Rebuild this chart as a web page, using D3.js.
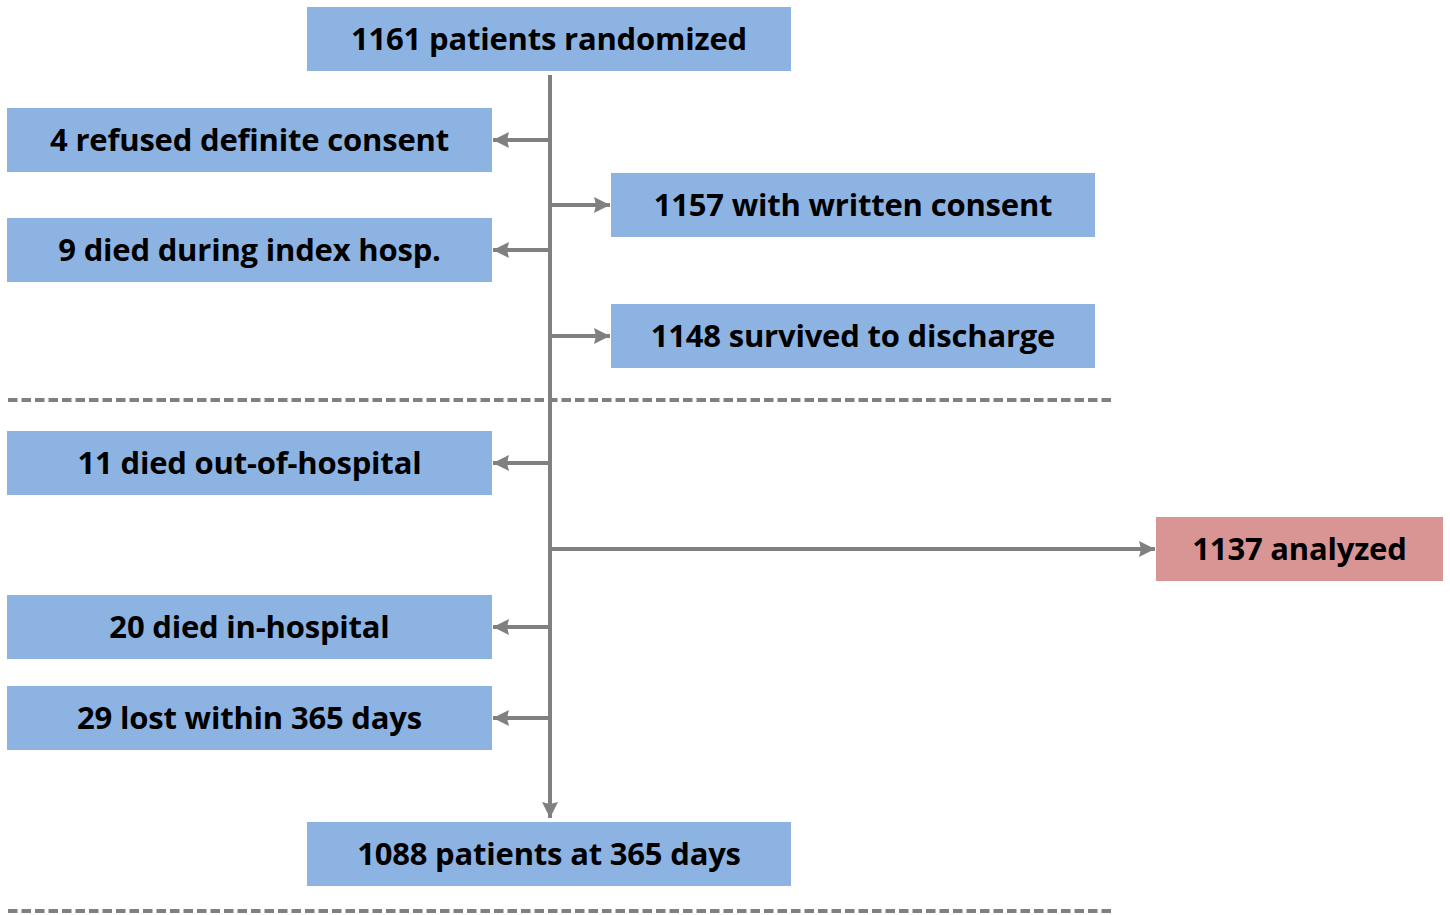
<!DOCTYPE html>
<html>
<head>
<meta charset="utf-8">
<script src="https://cdn.jsdelivr.net/npm/d3@7"></script>
<style>
  body { margin: 0; background: #fff; }
  svg { display: block; }
</style>
</head>
<body>
<div id="okvir"></div>
<script>
// box labels, in reading order
const labels = [
  "1161 patients randomized",
  "4 refused definite consent",
  "1157 with written consent",
  "9 died during index hosp.",
  "1148 survived to discharge",
  "11 died out-of-hospital",
  "1137 analyzed",
  "20 died in-hospital",
  "29 lost within 365 days",
  "1088 patients at 365 days"
];
// which column each box sits in
const columns = ["centre", "left", "right", "left", "right", "left", "far", "left", "left", "centre"];
// box kind (flow or final analysis)
const kinds = ["flow", "flow", "flow", "flow", "flow", "flow", "analysis", "flow", "flow", "flow"];
// dashed separators after these phases
const phases = ["index hospitalisation", "365 day follow-up"];

const sirina = 1450, visina = 915;

// layout (pixel positions kept separate from the data)
const colX = { left: [7, 492], centre: [307, 791], right: [611, 1095], far: [1156, 1443] };
const rowY = [7, 108, 173, 218, 304, 431, 517, 595, 686, 822];
const boxH = 64;
const trunkX = 550;
const sepY = [400, 911];

const boje = { flow: "#8db3e2", analysis: "#d99594" };
const siva = "#808080";

const nodes = labels.map((l, i) => ({
  label: l, col: columns[i], kind: kinds[i],
  x0: colX[columns[i]][0], x1: colX[columns[i]][1],
  y0: rowY[i], y1: rowY[i] + boxH
}));

const okvir = d3.select("#okvir")
  .append("svg")
  .attr("width", sirina)
  .attr("height", visina);

okvir.append("defs").append("marker")
  .attr("id", "strelica")
  .attr("viewBox", "0 0 12 12")
  .attr("refX", 12)
  .attr("refY", 6)
  .attr("markerWidth", 17)
  .attr("markerHeight", 16)
  .attr("markerUnits", "userSpaceOnUse")
  .attr("orient", "auto")
  .append("path")
  .attr("d", "M0,0 L12,6 L0,12 L1.5,6 Z")
  .attr("fill", siva);

// dashed separators
okvir.selectAll("line.sep")
  .data(phases)
  .enter()
  .append("line")
  .attr("class", "sep")
  .attr("x1", 8)
  .attr("x2", 1112)
  .attr("y1", (d, i) => sepY[i])
  .attr("y2", (d, i) => sepY[i])
  .attr("stroke", siva)
  .attr("stroke-width", 4)
  .attr("stroke-dasharray", "9.5,4");

// boxes
const g = okvir.selectAll("g.box")
  .data(nodes)
  .enter()
  .append("g")
  .attr("class", "box");

g.append("rect")
  .attr("x", d => d.x0)
  .attr("y", d => d.y0)
  .attr("width", d => d.x1 - d.x0)
  .attr("height", d => d.y1 - d.y0)
  .attr("fill", d => boje[d.kind]);

g.append("text")
  .attr("x", d => (d.x0 + d.x1) / 2)
  .attr("y", d => (d.y0 + d.y1) / 2)
  .attr("dy", "0.36em")
  .attr("text-anchor", "middle")
  .style("font-family", "'Open Sans', Lato, sans-serif")
  .style("font-weight", "bold")
  .style("font-size", "31px")
  .style("letter-spacing", "-0.2px")
  .style("fill", "#000")
  .text(d => d.label);

// trunk
const first = nodes[0], last = nodes[nodes.length - 1];
okvir.append("line")
  .attr("x1", trunkX).attr("x2", trunkX)
  .attr("y1", first.y1 + 4)
  .attr("y2", last.y0 - 4)
  .attr("stroke", siva)
  .attr("stroke-width", 4)
  .attr("marker-end", "url(#strelica)");

// branches
const grane = nodes.slice(1, -1);
okvir.selectAll("line.grana")
  .data(grane)
  .enter()
  .append("line")
  .attr("class", "grana")
  .attr("x1", trunkX)
  .attr("y1", d => (d.y0 + d.y1) / 2)
  .attr("y2", d => (d.y0 + d.y1) / 2)
  .attr("x2", d => d.col === "left" ? d.x1 + 1 : d.x0 - 1)
  .attr("stroke", siva)
  .attr("stroke-width", 4)
  .attr("marker-end", "url(#strelica)");
</script>
</body>
</html>
